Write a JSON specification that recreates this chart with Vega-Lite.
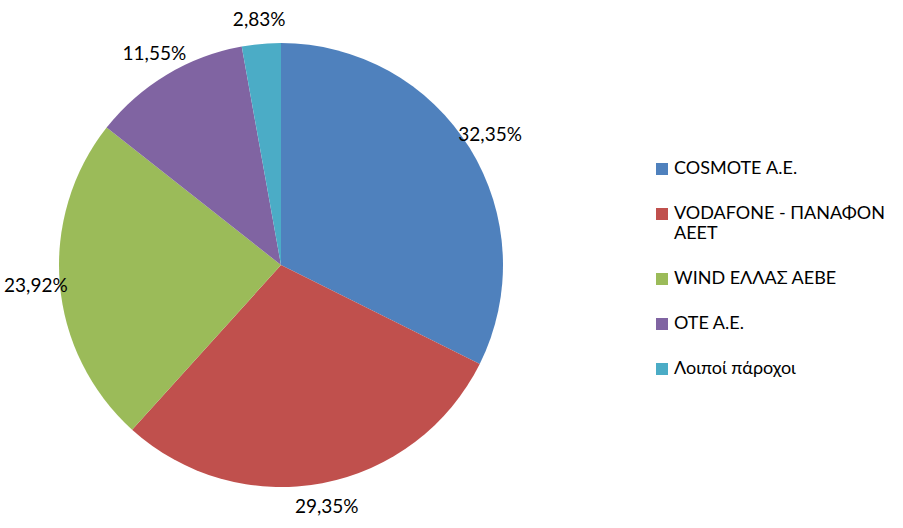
{
  "$schema": "https://vega.github.io/schema/vega-lite/v6.json",
  "width": 556,
  "height": 516,
  "autosize": {"type": "none"},
  "padding": {"left": 3, "top": 7, "right": 344, "bottom": 5},
  "background": "white",
  "config": {
    "view": {"stroke": null},
    "font": "Lato",
    "locale": {"number": {"decimal": ",", "thousands": ".", "grouping": [3], "currency": ["", " €"]}}
  },
  "data": {
    "values": [
      {"provider": "COSMOTE Α.Ε.", "share": 0.3235, "order": 1},
      {"provider": "VODAFONE - ΠΑΝΑΦΟΝ ΑΕΕΤ", "share": 0.2935, "order": 2},
      {"provider": "WIND ΕΛΛΑΣ ΑΕΒΕ", "share": 0.2392, "order": 3},
      {"provider": "ΟΤΕ Α.Ε.", "share": 0.1155, "order": 4},
      {"provider": "Λοιποί πάροχοι", "share": 0.0283, "order": 5}
    ]
  },
  "encoding": {
    "theta": {"field": "share", "type": "quantitative", "stack": true},
    "order": {"field": "order", "type": "quantitative"},
    "color": {
      "field": "provider",
      "type": "nominal",
      "sort": null,
      "scale": {
        "domain": ["COSMOTE Α.Ε.", "VODAFONE - ΠΑΝΑΦΟΝ ΑΕΕΤ", "WIND ΕΛΛΑΣ ΑΕΒΕ", "ΟΤΕ Α.Ε.", "Λοιποί πάροχοι"],
        "range": ["#4F81BD", "#C0504D", "#9BBB59", "#8064A2", "#4BACC6"]
      },
      "legend": {
        "title": null,
        "orient": "none",
        "legendX": 650,
        "legendY": 153,
        "symbolType": "square",
        "symbolSize": 144,
        "symbolStrokeWidth": 0,
        "labelFontSize": 18,
        "labelFont": "Lato",
        "labelColor": "#000000",
        "labelOffset": 3,
        "labelLimit": 300,
        "rowPadding": 27,
        "labelExpr": "datum.label == 'VODAFONE - ΠΑΝΑΦΟΝ ΑΕΕΤ' ? ['VODAFONE - ΠΑΝΑΦΟΝ', 'ΑΕΕΤ'] : datum.label"
      }
    }
  },
  "layer": [
    {"mark": {"type": "arc", "outerRadius": 222}},
    {
      "mark": {"type": "text", "radius": 246, "fontSize": 19, "font": "Lato", "color": "#000000"},
      "encoding": {
        "text": {"field": "share", "type": "quantitative", "format": ".2%"},
        "color": {"value": "#000000"}
      }
    }
  ]
}
